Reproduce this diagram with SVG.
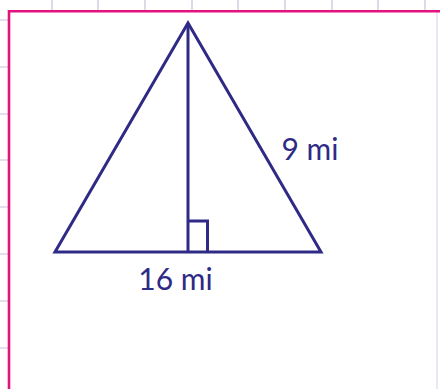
<svg xmlns="http://www.w3.org/2000/svg" width="440" height="389" viewBox="0 0 440 389">
<style>
.tick{stroke:#c9bfd9;stroke-width:1.2}
.shape{fill:none;stroke:#2e2a86;stroke-width:3;stroke-linejoin:miter}
.lbl{font-family:Lato,"Open Sans",sans-serif;font-size:30px;fill:#2e2a86}
</style>
<rect width="440" height="389" fill="#ffffff"/>
<g id="grid">
<path class="tick" d="M52 0V10M98 0V10M145 0V10M192 0V10M238 0V10M285 0V10M332 0V10M378 0V10M425 0V10"/>
<path class="tick" d="M0 20H8M0 67H8M0 114H8M0 160H8M0 207H8M0 254H8M0 301H8M0 348H8"/>
<line x1="437" y1="12" x2="437" y2="389" stroke="#e6dff0" stroke-width="1.5"/>
</g>
<g id="frame">
<path d="M9 389V11.2H440" fill="none" stroke="#e2137f" stroke-width="2.6"/>
</g>
<g id="triangle">
<polygon class="shape" points="188,23 55,252 321,252"/>
<line class="shape" x1="188" y1="23" x2="188" y2="252"/>
<polyline class="shape" points="188,221 207.5,221 207.5,252"/>
</g>
<g id="labels">
<text class="lbl" x="175.5" y="290" text-anchor="middle">16 mi</text>
<text class="lbl" x="310" y="160" text-anchor="middle">9 mi</text>
</g>
</svg>
